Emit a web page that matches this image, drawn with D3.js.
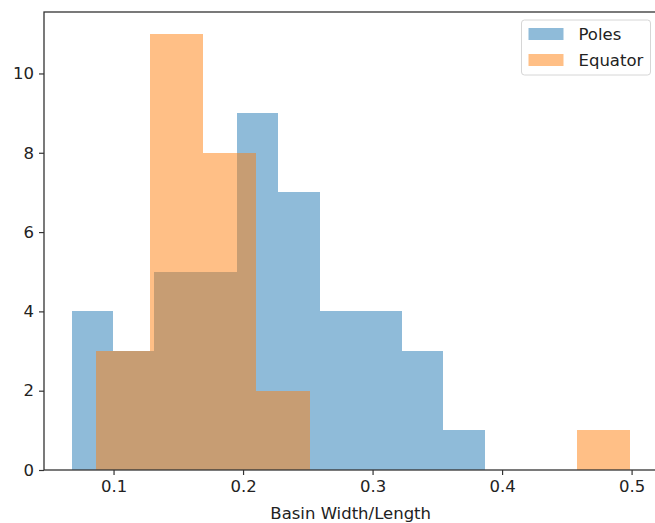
<!DOCTYPE html>
<html>
<head>
<meta charset="utf-8">
<script src="https://cdn.jsdelivr.net/npm/d3@7"></script>
<style>
  html, body { margin: 0; padding: 0; background: #fff; }
  svg { display: block; font-family: "DejaVu Sans", sans-serif; }
</style>
</head>
<body>
<svg id="chart" width="655" height="523"></svg>
<script>
// Histogram bin edges
const polesStart = 0.0679, polesWidth = 0.03186;
const polesCounts = [4, 3, 5, 5, 9, 7, 4, 4, 3, 1];
const equatorStart = 0.0866, equatorWidth = 0.04125;
const equatorCounts = [3, 11, 8, 2, 0, 0, 0, 0, 0, 1];
const seriesNames = ["Poles", "Equator"];
const xTicks = [0.1, 0.2, 0.3, 0.4, 0.5];
const yTicks = [0, 2, 4, 6, 8, 10];
const xLabel = "Basin Width/Length";

function bins(start, width, counts) {
  return counts.map((c, i) => ({ x0: start + i * width, x1: start + (i + 1) * width, c }));
}
const polesBins = bins(polesStart, polesWidth, polesCounts);
const equatorBins = bins(equatorStart, equatorWidth, equatorCounts);

const svg = d3.select("#chart");
const mLeft = 44, mTop = 12, mBottom = 470, mRight = 658.4;
const x = d3.scaleLinear().domain([0.0463, 0.5207]).range([mLeft, mRight]);
const y = d3.scaleLinear().domain([0, 11.55]).range([mBottom, mTop]);

const colors = ["#1f77b4", "#ff7f0e"];
const fontSize = 16.5;

[polesBins, equatorBins].forEach((data, k) => {
  svg.append("g").attr("shape-rendering", "crispEdges")
    .selectAll("rect").data(data.filter(d => d.c > 0)).join("rect")
    .attr("x", d => Math.round(x(d.x0)))
    .attr("width", d => Math.round(x(d.x1)) - Math.round(x(d.x0)))
    .attr("y", d => Math.round(y(d.c)))
    .attr("height", d => Math.round(y(0)) - Math.round(y(d.c)))
    .attr("fill", colors[k])
    .attr("fill-opacity", 0.5);
});

// Axes
const xAxis = d3.axisBottom(x).tickValues(xTicks).tickFormat(d3.format(".1f")).tickSizeOuter(0).tickSize(5).tickPadding(5);
const gx = svg.append("g").attr("transform", `translate(0,${mBottom})`).call(xAxis);
const yAxis = d3.axisLeft(y).tickValues(yTicks).tickFormat(d3.format("d")).tickSizeOuter(0).tickSize(5).tickPadding(5);
const gy = svg.append("g").attr("transform", `translate(${mLeft},0)`).call(yAxis);
[gx, gy].forEach(g => {
  g.select(".domain").remove();
  g.selectAll("line").attr("stroke", "#333").attr("stroke-width", 1.2);
  g.selectAll("text").attr("font-size", fontSize).attr("fill", "#222")
    .attr("font-family", "DejaVu Sans, sans-serif");
});
gx.selectAll("text").attr("dy", "0.71em");

// Spines
svg.append("rect").attr("x", mLeft).attr("y", mTop).attr("width", mRight - mLeft).attr("height", mBottom - mTop)
  .attr("fill", "none").attr("stroke", "#333").attr("stroke-width", 1.3);

// X label
svg.append("text").attr("x", (mLeft + mRight) / 2 - 0.5).attr("y", 519).attr("text-anchor", "middle")
  .attr("font-size", fontSize).attr("fill", "#222").text(xLabel);

// Legend
const lg = svg.append("g");
lg.append("rect").attr("x", 521.5).attr("y", 20).attr("width", 129).attr("height", 55).attr("rx", 3)
  .attr("fill", "#fff").attr("fill-opacity", 0.8).attr("stroke", "#d6d6d6").attr("stroke-width", 1);
seriesNames.forEach((name, i) => {
  const cy = 34 + i * 26;
  lg.append("rect").attr("x", 528.5).attr("y", cy - 6).attr("width", 35).attr("height", 12)
    .attr("fill", colors[i]).attr("fill-opacity", 0.5);
  lg.append("text").attr("x", 578.5).attr("y", cy).attr("dy", "0.36em")
    .attr("font-size", fontSize).attr("fill", "#222").text(name);
});
</script>
</body>
</html>
